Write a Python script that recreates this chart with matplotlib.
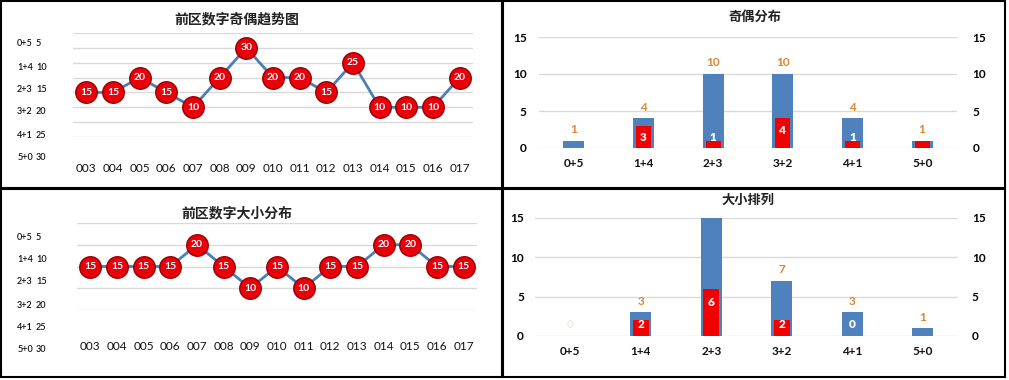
import matplotlib.pyplot as plt
from matplotlib.patches import Rectangle

plt.rcParams['font.family'] = ['Lato', 'Noto Sans CJK SC', 'DejaVu Sans']

# 前区数字奇偶趋势图
periods = ['003', '004', '005', '006', '007', '008', '009', '010',
           '011', '012', '013', '014', '015', '016', '017']
odd_even_trend = [15, 15, 20, 15, 10, 20, 30, 20, 20, 15, 25, 10, 10, 10, 20]
# 前区数字大小分布
big_small_trend = [15, 15, 15, 15, 20, 15, 10, 15, 10, 15, 15, 20, 20, 15, 15]
side_combos = ['0+5', '1+4', '2+3', '3+2', '4+1', '5+0']
side_values = [5, 10, 15, 20, 25, 30]

# 奇偶分布
combos = ['0+5', '1+4', '2+3', '3+2', '4+1', '5+0']
odd_even_total = [1, 4, 10, 10, 4, 1]
odd_even_recent = [0, 3, 1, 4, 1, 1]
odd_even_recent_lbl = ['', '3', '1', '4', '1', '']
# 大小排列
big_small_total = [0, 3, 15, 7, 3, 1]
big_small_recent = [0, 2, 6, 2, 0, 0]
big_small_recent_lbl = ['', '2', '6', '2', '0', '']

W, H = 1009, 380
BLUE = '#4F81BD'
RED = '#F20000'
ORANGE = '#E0822F'
GRID = '#D9D9D9'
CJK = ['Noto Sans CJK SC', 'DejaVu Sans']

fig = plt.figure(figsize=(W / 100, H / 100), dpi=100)


def px_axes(x0, y0, x1, y1):
    # pixel box (top-left origin) -> figure axes
    return fig.add_axes([x0 / W, 1 - y1 / H, (x1 - x0) / W, (y1 - y0) / H])


def clean(ax):
    for s in ax.spines.values():
        s.set_visible(False)
    ax.tick_params(length=0)
    ax.set_axisbelow(True)
    ax.yaxis.grid(True, color=GRID, lw=1)


def trend(ax, values, ylim, pad, title, title_y, side_y):
    x = range(len(periods))
    ax.plot(x, values, color='#4A7EBB', lw=2.0, zorder=2)
    ax.plot(x, values, 'o', ms=15.5, mfc='#E8000B', mec='#9A0000', mew=1.0, zorder=3)
    for i, v in enumerate(values):
        ax.text(i, v, str(v), ha='center', va='center', color='white',
                fontsize=7.5, fontweight='bold', zorder=4)
    clean(ax)
    ax.set_ylim(*ylim)
    ax.set_yticks(range(ylim[0], ylim[1] + 1, 5))
    ax.set_yticklabels([])
    ax.set_xlim(-0.5, len(periods) - 0.5)
    ax.set_xticks(list(x))
    ax.set_xticklabels(periods, fontsize=8.5, color='#111111')
    ax.tick_params(axis='x', pad=pad)
    fig.text(237 / W, 1 - title_y / H, title, family=CJK, fontsize=10,
             fontweight='heavy', ha='center', va='center', color='#222222')
    for c, v, y in zip(side_combos, side_values, side_y):
        fig.text(17 / W, 1 - y / H, c, fontsize=6.5, va='center', color='#111111',
                 fontweight='semibold')
        fig.text(36 / W, 1 - y / H, str(v), fontsize=6.5, va='center', color='#111111',
                 fontweight='semibold')


def dist(ax, total, recent, recent_lbl, pad_l, pad_r, title, title_x, title_y,
         faint_zero=False):
    x = range(len(combos))
    ax.bar(x, total, width=0.30, color=BLUE, zorder=2)
    ax.bar(x, recent, width=0.22, color=RED, zorder=3)
    clean(ax)
    ax.set_ylim(0, 15)
    ax.set_yticks([0, 5, 10, 15])
    ax.set_xlim(-0.5, len(combos) - 0.5)
    ax.set_xticks(list(x))
    ax.set_xticklabels(combos, fontsize=8.5, fontweight='bold', color='#111111')
    ax.tick_params(axis='x', pad=7)
    ax.tick_params(axis='y', labelsize=8.5, pad=pad_l)
    for t in ax.get_yticklabels():
        t.set_fontweight('bold')
    for i, v in enumerate(total):
        if v >= 15:
            continue
        col = '#F6E6E2' if (v == 0 and faint_zero) else ORANGE
        ax.annotate(str(v), (i, v), xytext=(0, 8), textcoords='offset points',
                    ha='center', va='center', color=col, fontsize=8.5,
                    fontweight='bold', zorder=5)
    for i, (v, lb) in enumerate(zip(recent, recent_lbl)):
        if lb:
            ax.text(i, max(v - 1.7, 1.4), lb, ha='center', va='center',
                    color='white', fontsize=8.5, fontweight='heavy', zorder=5)
    tw = ax.twinx()
    for s in tw.spines.values():
        s.set_visible(False)
    tw.set_ylim(0, 15)
    tw.set_yticks([0, 5, 10, 15])
    tw.tick_params(length=0, labelsize=8.5, pad=pad_r)
    for t in tw.get_yticklabels():
        t.set_fontweight('bold')
    fig.text(title_x / W, 1 - title_y / H, title, family=CJK, fontsize=9.5,
             fontweight='heavy', ha='center', va='center', color='#222222')


ax1 = px_axes(73, 33, 473, 137)
trend(ax1, odd_even_trend, (0, 35), 19, '前区数字奇偶趋势图', 19,
      [44, 67, 90, 112, 135, 157])

ax2 = px_axes(77, 223, 477, 310)
trend(ax2, big_small_trend, (5, 25), 22, '前区数字大小分布', 213,
      [237, 259, 282, 305, 328, 350])

ax3 = px_axes(539, 37, 957, 148)
dist(ax3, odd_even_total, odd_even_recent, odd_even_recent_lbl, 9, 11,
     '奇偶分布', 755, 17)

ax4 = px_axes(535, 218, 958, 336)
dist(ax4, big_small_total, big_small_recent, big_small_recent_lbl, 8, 10,
     '大小排列', 748, 200, faint_zero=True)

# panel borders
for x0, y0, x1, y1 in [(1, 1, 502, 188), (503, 1, 1005, 188),
                       (1, 189, 502, 377), (503, 189, 1005, 377)]:
    fig.patches.append(Rectangle((x0 / W, 1 - y1 / H), (x1 - x0) / W, (y1 - y0) / H,
                                 transform=fig.transFigure, fill=False,
                                 ec='black', lw=1.5))

fig.savefig('out.png', dpi=100)
